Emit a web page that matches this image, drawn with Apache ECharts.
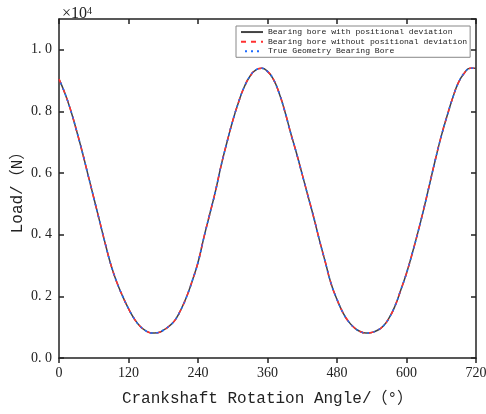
<!DOCTYPE html>
<html>
<head>
<meta charset="utf-8">
<title>Load vs crankshaft angle</title>
<script src="https://cdn.jsdelivr.net/npm/echarts@6/dist/echarts.min.js"></script>
<style>
  html, body { margin: 0; padding: 0; background: #fff; }
  #chart { width: 486px; height: 414px; }
</style>
</head>
<body>
<div id="chart"></div>
<script>
// 曲轴转角 (°), 每10°一个点
const angles = [];
for (let a = 0; a <= 720; a += 10) angles.push(a);

// 载荷 (×10^4 N)
const loadValues = [
    0.905, 0.86, 0.805, 0.74, 0.67, 0.595, 0.52, 0.445, 0.37, 0.30,
    0.245, 0.20, 0.16, 0.127, 0.103, 0.088, 0.081, 0.082, 0.09, 0.103,
    0.122, 0.155, 0.197, 0.25, 0.31, 0.39, 0.465, 0.54, 0.625, 0.70,
    0.77, 0.83, 0.88, 0.915, 0.935, 0.94, 0.93, 0.905, 0.86, 0.80,
    0.73, 0.665, 0.595, 0.525, 0.455, 0.38, 0.31, 0.24, 0.19, 0.148,
    0.118, 0.098, 0.086, 0.081, 0.083, 0.09, 0.104, 0.13, 0.168, 0.22,
    0.275, 0.34, 0.41, 0.485, 0.565, 0.645, 0.72, 0.785, 0.845, 0.895,
    0.925, 0.94, 0.94
];

const seriesNames = [
    'Bearing bore with positional deviation',
    'Bearing bore without positional deviation',
    'True Geometry Bearing Bore'
];

const xTicks = [0, 120, 240, 360, 480, 600, 720];
const yTicks = [0, 0.2, 0.4, 0.6, 0.8, 1.0];

const points = angles.map((a, i) => [a, loadValues[i]]);

const serifFont = '"Liberation Serif", "DejaVu Serif", serif';
const monoFont = '"Liberation Mono", "DejaVu Sans Mono", "Noto Sans CJK SC", monospace';

const chart = echarts.init(document.getElementById('chart'));

const option = {
    backgroundColor: '#fff',
    animation: false,
    title: {
        text: '×10{s|4}',
        left: 57,
        top: 1,
        textStyle: {
            fontFamily: serifFont,
            fontSize: 16,
            fontWeight: 'normal',
            color: '#222',
            rich: { s: { fontSize: 10, verticalAlign: 'top', lineHeight: 10, fontFamily: serifFont, color: '#222' } }
        }
    },
    legend: {
        orient: 'vertical',
        left: 236,
        top: 26,
        padding: [2, 3, 2, 4],
        itemGap: 1.5,
        itemWidth: 22,
        itemHeight: 9,
        backgroundColor: '#fff',
        borderColor: '#888',
        borderWidth: 1,
        borderRadius: 0,
        itemStyle: { opacity: 0 },
        textStyle: { fontFamily: monoFont, fontSize: 8.1, color: '#222', padding: [0, 0, 0, 0] },
        data: seriesNames
    },
    grid: { left: 59, right: 10, top: 19, bottom: 56, outerBoundsMode: 'none' },
    xAxis: [{
        type: 'value',
        min: 0,
        max: 720,
        interval: 120,
        name: 'Crankshaft Rotation Angle/（°）',
        nameLocation: 'middle',
        nameGap: 33,
        nameMoveOverlap: false,
        nameTextStyle: { fontFamily: monoFont, fontSize: 16, color: '#222' },
        axisLine: { onZero: false, lineStyle: { color: '#222', width: 1.5 } },
        axisTick: { show: true, inside: false, length: 5, lineStyle: { color: '#222', width: 1.5 } },
        axisLabel: {
            fontFamily: serifFont, fontSize: 14, color: '#222', margin: 8,
            formatter: v => xTicks.includes(v) ? String(v) : ''
        },
        splitLine: { show: false }
    }, {
        type: 'value',
        position: 'top',
        min: 0,
        max: 720,
        interval: 120,
        axisLine: { show: true, onZero: false, lineStyle: { color: '#222', width: 1.5 } },
        axisTick: { show: true, inside: true, length: 5, lineStyle: { color: '#222', width: 1.5 } },
        axisLabel: { show: false },
        splitLine: { show: false }
    }],
    yAxis: [{
        type: 'value',
        min: 0,
        max: 1.1,
        interval: 0.2,
        name: 'Load/（N）',
        nameLocation: 'middle',
        nameGap: 33,
        nameMoveOverlap: false,
        nameRotate: 90,
        nameTextStyle: { fontFamily: monoFont, fontSize: 16, color: '#222' },
        axisLine: { show: true, onZero: false, lineStyle: { color: '#222', width: 1.5 } },
        axisTick: { show: true, inside: true, length: 5, lineStyle: { color: '#222', width: 1.5 } },
        axisLabel: {
            fontFamily: serifFont, fontSize: 14, color: '#222', margin: 7,
            showMaxLabel: false,
            formatter: v => {
                const t = yTicks.find(y => Math.abs(y - v) < 1e-6);
                return t === undefined ? '' : t.toFixed(1).replace('.', '. ');
            }
        },
        splitLine: { show: false }
    }, {
        type: 'value',
        position: 'right',
        min: 0,
        max: 1.1,
        interval: 0.2,
        axisLine: { show: true, onZero: false, lineStyle: { color: '#222', width: 1.5 } },
        axisTick: { show: true, inside: true, length: 5, lineStyle: { color: '#222', width: 1.5 } },
        axisLabel: { show: false },
        splitLine: { show: false }
    }],
    series: [{
        name: seriesNames[0],
        type: 'line',
        data: points,
        smooth: true,
        symbol: 'none',
        lineStyle: { color: '#444', width: 1.5, type: 'solid' },
        itemStyle: { color: '#444' }
    }, {
        name: seriesNames[1],
        type: 'line',
        data: points,
        smooth: true,
        symbol: 'none',
        lineStyle: { color: '#ff3030', width: 1.5, type: [5, 5] },
        itemStyle: { color: '#ff3030' }
    }, {
        name: seriesNames[2],
        type: 'line',
        data: points,
        smooth: true,
        symbol: 'none',
        lineStyle: { color: '#1e6bff', width: 1.5, type: [2, 4], dashOffset: 2 },
        itemStyle: { color: '#1e6bff' }
    }]
};

chart.setOption(option);
</script>
</body>
</html>
